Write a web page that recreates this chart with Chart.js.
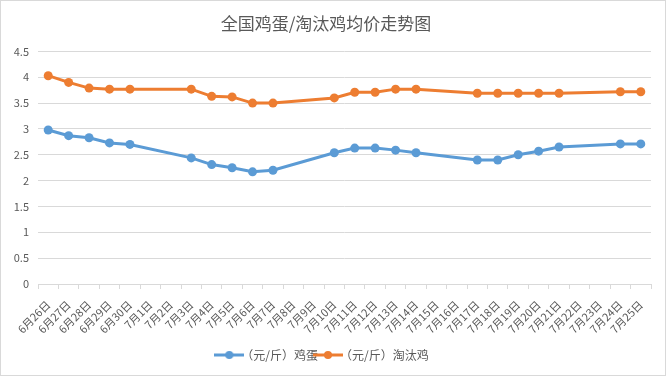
<!DOCTYPE html>
<html>
<head>
<meta charset="utf-8">
<script src="https://cdn.jsdelivr.net/npm/chart.js@4"></script>
<style>
  html, body { margin: 0; padding: 0; background: #fff; }
  #wrap { position: relative; width: 664px; height: 374px; border: 1px solid #d9d9d9; }
</style>
</head>
<body>
<div id="wrap"><canvas id="chart" width="664" height="374"></canvas></div>
<script>
const days = ["6月26日","6月27日","6月28日","6月29日","6月30日","7月1日","7月2日","7月3日","7月4日","7月5日",
  "7月6日","7月7日","7月8日","7月9日","7月10日","7月11日","7月12日","7月13日","7月14日","7月15日",
  "7月16日","7月17日","7月18日","7月19日","7月20日","7月21日","7月22日","7月23日","7月24日","7月25日"];

// (元/斤) 鸡蛋
const eggPrice = [2.98, 2.87, 2.83, 2.73, 2.70, null, null, 2.44, 2.31, 2.25,
  2.17, 2.20, null, null, 2.54, 2.63, 2.63, 2.59, 2.54, null,
  null, 2.40, 2.40, 2.50, 2.57, 2.65, null, null, 2.71, 2.71];

// (元/斤) 淘汰鸡
const henPrice = [4.03, 3.90, 3.79, 3.77, 3.77, null, null, 3.77, 3.63, 3.62,
  3.50, 3.50, null, null, 3.60, 3.71, 3.71, 3.77, 3.77, null,
  null, 3.69, 3.69, 3.69, 3.69, 3.69, null, null, 3.72, 3.72];

const BLUE = "#5B9BD5";
const ORANGE = "#ED7D31";
const TEXT = "#595959";
const FONT = "'Noto Sans CJK SC', 'Noto Sans', sans-serif";

// legend marker: short line with a dot, like the Excel legend
function legendIcon(color) {
  const c = document.createElement("canvas");
  c.width = 30; c.height = 10;
  const g = c.getContext("2d");
  g.strokeStyle = color; g.lineWidth = 3;
  g.beginPath(); g.moveTo(0, 5); g.lineTo(30, 5); g.stroke();
  g.fillStyle = color;
  g.beginPath(); g.arc(15, 5, 4, 0, Math.PI * 2); g.fill();
  return c;
}

function series(label, data, color) {
  return {
    label, data,
    borderColor: color,
    backgroundColor: color,
    borderWidth: 3,
    pointRadius: 4.5,
    pointHoverRadius: 4.5,
    pointBorderWidth: 0,
    tension: 0,
    spanGaps: true,
    pointStyle: "circle"
  };
}

new Chart(document.getElementById("chart"), {
  type: "line",
  data: {
    labels: days,
    datasets: [
      series("（元/斤）鸡蛋", eggPrice, BLUE),
      series("（元/斤）淘汰鸡", henPrice, ORANGE)
    ]
  },
  options: {
    responsive: false,
    animation: false,
    layout: { padding: { left: 0, right: 14, top: 6, bottom: 4 } },
    plugins: {
      title: {
        display: true,
        text: "全国鸡蛋/淘汰鸡均价走势图",
        color: TEXT,
        font: { family: FONT, size: 17, weight: "normal" },
        padding: { top: 6, bottom: 18 }
      },
      legend: {
        position: "bottom",
        labels: {
          color: TEXT,
          font: { family: FONT, size: 12 },
          usePointStyle: true,
          boxWidth: 30,
          padding: 4,
          generateLabels(chart) {
            return chart.data.datasets.map((ds, i) => ({
              text: ds.label,
              fontColor: TEXT,
              pointStyle: legendIcon(ds.borderColor),
              strokeStyle: ds.borderColor,
              fillStyle: ds.borderColor,
              lineWidth: 0,
              datasetIndex: i,
              hidden: false
            }));
          }
        }
      },
      tooltip: { enabled: false }
    },
    scales: {
      x: {
        offset: true,
        grid: {
          offset: true,
          drawOnChartArea: false,
          drawTicks: true,
          tickLength: 5,
          color: "#d9d9d9"
        },
        border: { color: "#d9d9d9" },
        ticks: {
          color: TEXT,
          font: { family: FONT, size: 11 },
          minRotation: 45,
          maxRotation: 45,
          autoSkip: false,
          padding: 9
        },
        afterFit(scale) { scale.height = 61; }
      },
      y: {
        min: 0,
        max: 4.5,
        grid: { color: "#d9d9d9", drawTicks: false },
        border: { display: false },
        ticks: {
          stepSize: 0.5,
          color: TEXT,
          font: { family: FONT, size: 11 },
          padding: 9,
          callback: v => String(v)
        },
        afterFit(scale) { scale.width = 37; }
      }
    }
  }
});
</script>
</body>
</html>
